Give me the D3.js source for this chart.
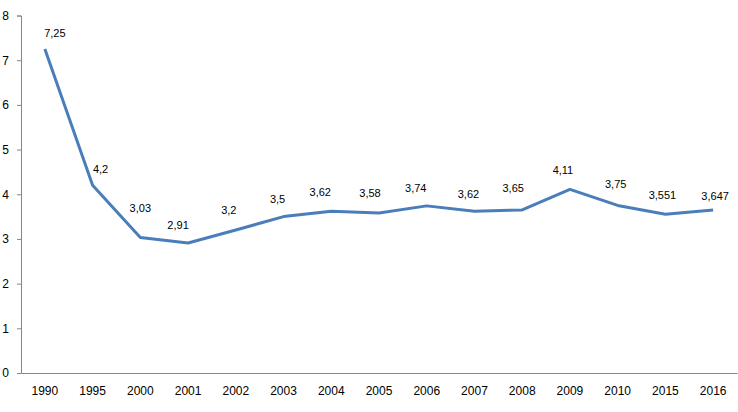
<!DOCTYPE html>
<html>
<head>
<meta charset="utf-8">
<script src="https://cdn.jsdelivr.net/npm/d3@7"></script>
<style>
  body { margin: 0; background: #fff; }
</style>
</head>
<body>
<div class="chart"></div>
<script>
// data
const years = ["1990", "1995", "2000", "2001", "2002", "2003", "2004", "2005",
               "2006", "2007", "2008", "2009", "2010", "2015", "2016"];
const values = [7.25, 4.2, 3.03, 2.91, 3.2, 3.5, 3.62, 3.58, 3.74, 3.62, 3.65, 4.11, 3.75, 3.551, 3.647];
const yTicks = [0, 1, 2, 3, 4, 5, 6, 7, 8];

// labels were dragged around by hand in the original, so nudge each one
const labelNudge = [[10, -16], [8, -16], [0, -29], [-10, -18], [-7, -20], [-6, -17], [-11, -19], [-9, -20],
                    [-11, -18], [-6, -17], [-9, -22], [-7, -19], [-2, -21], [-3, -19], [2, -14]];

const width = 738;
const height = 412;
const margin = {top: 15.5, left: 21, right: 1, bottom: 39};

const xScale = d3.scaleBand()
    .domain(years)
    .range([margin.left, width - margin.right]);

const yScale = d3.scaleLinear()
    .domain([0, 8])
    .range([height - margin.bottom, margin.top]);

const svg = d3.select('.chart')
    .append('svg')
    .attr('width', width)
    .attr('height', height);

const xc = d => xScale(d) + xScale.bandwidth() / 2;

// y axis
const yAxis = d3.axisLeft(yScale).tickValues(yTicks).tickSize(4).tickPadding(8);
const gy = svg.append('g')
    .attr('transform', `translate(${margin.left},0)`)
    .call(yAxis);
gy.select('.domain').attr('stroke', '#868686');
gy.selectAll('.tick line').attr('stroke', '#868686');
gy.selectAll('.tick text')
    .attr('font-family', 'Liberation Sans, Arial, sans-serif')
    .attr('font-size', 12)
    .attr('fill', '#000');

// x axis (no tick marks)
const xAxis = d3.axisBottom(xScale).tickSize(0).tickPadding(13).tickSizeOuter(0);
const gx = svg.append('g')
    .attr('transform', `translate(0,${yScale(0)})`)
    .call(xAxis);
gx.select('.domain').attr('stroke', '#868686');
gx.selectAll('.tick text')
    .attr('font-family', 'Liberation Sans, Arial, sans-serif')
    .attr('font-size', 12)
    .attr('fill', '#000');

// the line
const line = d3.line()
    .x((d, i) => xc(years[i]))
    .y(d => yScale(d));

svg.append('path')
    .datum(values)
    .attr('d', line)
    .attr('fill', 'none')
    .attr('stroke', '#4a7ebb')
    .attr('stroke-width', 3)
    .attr('stroke-linejoin', 'round');

// data labels
svg.selectAll('.lbl')
    .data(values)
    .enter()
    .append('text')
    .attr('class', 'lbl')
    .attr('x', (d, i) => xc(years[i]) + labelNudge[i][0])
    .attr('y', (d, i) => yScale(d) + labelNudge[i][1])
    .attr('dy', '0.35em')
    .attr('text-anchor', 'middle')
    .attr('font-family', 'Liberation Sans, Arial, sans-serif')
    .attr('font-size', 11)
    .attr('fill', '#000')
    .text(d => String(d).replace('.', ','));
</script>
</body>
</html>
